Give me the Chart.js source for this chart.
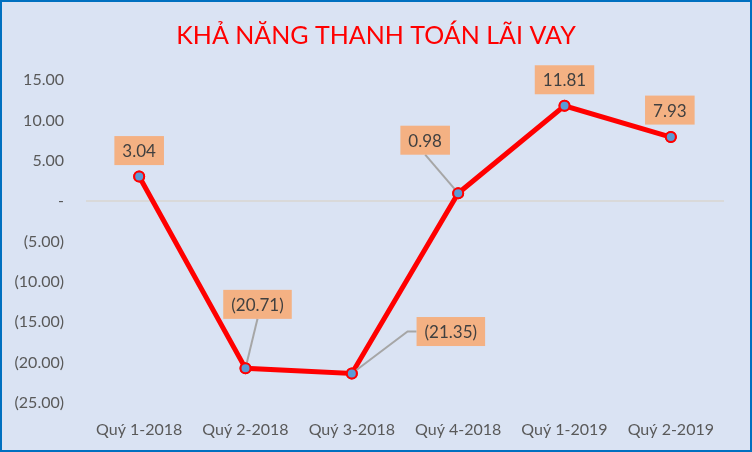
<!DOCTYPE html>
<html>
<head>
<meta charset="utf-8">
<script src="https://cdn.jsdelivr.net/npm/chart.js@4/dist/chart.umd.min.js"></script>
<style>
  html, body { margin: 0; padding: 0; }
  #wrap {
    width: 752px; height: 452px; box-sizing: border-box;
    border: 2px solid #0070C0; background: #DAE3F3;
  }
  canvas { display: block; }
</style>
</head>
<body>
<div id="wrap"><canvas id="chart" width="748" height="448"></canvas></div>
<script>
const quarters = ['Quý 1-2018', 'Quý 2-2018', 'Quý 3-2018', 'Quý 4-2018', 'Quý 1-2019', 'Quý 2-2019'];
const coverage = [3.04, -20.71, -21.35, 0.98, 11.81, 7.93];
const yMin = -25;
const yMax = 15;
const yStep = 5;
const chartTitle = 'KHẢ NĂNG THANH TOÁN LÃI VAY';

const fontName = 'Lato, "Open Sans", sans-serif';

// accounting style number: 0 -> "-", negatives in brackets
function fmt(v) {
    if (Math.abs(v) < 1e-9) return '-';
    const s = Math.abs(v).toFixed(2);
    return v < 0 ? '(' + s + ')' : s;
}

// where each label box sits relative to its point, and how the leader line goes
const labelPlace = [
    { dx: 0, dy: -26 },
    { dx: 12, dy: -64, leader: 'bottom' },
    { dx: 99, dy: -42, leader: 'left' },
    { dx: -33, dy: -53, leader: 'bottom' },
    { dx: 0, dy: -26 },
    { dx: -1, dy: -27 }
];

// title centred on the whole canvas (the built-in one follows the layout padding)
const centredTitle = {
    id: 'centredTitle',
    afterDraw(chart) {
        const ctx = chart.ctx;
        ctx.save();
        ctx.font = '25px ' + fontName;
        ctx.fillStyle = '#FF0000';
        ctx.textAlign = 'center';
        ctx.textBaseline = 'middle';
        ctx.fillText(chartTitle, chart.width / 2, 34);
        ctx.restore();
    }
};

const boxLabels = {
    id: 'boxLabels',
    afterDatasetsDraw(chart) {
        const ctx = chart.ctx;
        const meta = chart.getDatasetMeta(0);
        ctx.save();
        ctx.font = '17px ' + fontName;
        meta.data.forEach((pt, i) => {
            const place = labelPlace[i];
            const text = fmt(coverage[i]);
            const w = ctx.measureText(text).width + 16;
            const h = 29;
            const cx = pt.x + place.dx;
            const cy = pt.y + place.dy;
            const left = cx - w / 2, top = cy - h / 2;

            if (place.leader) {
                ctx.strokeStyle = '#A6A6A6';
                ctx.lineWidth = 2;
                ctx.beginPath();
                ctx.moveTo(pt.x, pt.y);
                if (place.leader === 'bottom') {
                    ctx.lineTo(cx, top + h);
                } else {
                    ctx.lineTo(left - 9, cy);
                    ctx.lineTo(left, cy);
                }
                ctx.stroke();
            }

            ctx.fillStyle = '#F4B183';
            ctx.fillRect(left, top, w, h);
            ctx.fillStyle = '#404040';
            ctx.textAlign = 'center';
            ctx.textBaseline = 'middle';
            ctx.fillText(text, cx, cy + 1);
        });
        ctx.restore();
    }
};

// redraw points above the leader lines
const pointsOnTop = {
    id: 'pointsOnTop',
    afterDraw(chart) {
        const meta = chart.getDatasetMeta(0);
        meta.data.forEach(p => p.draw(chart.ctx, chart.chartArea));
    }
};

new Chart(document.getElementById('chart'), {
    type: 'line',
    data: {
        labels: quarters,
        datasets: [{
            data: coverage,
            borderColor: '#FF0000',
            borderWidth: 5,
            tension: 0,
            pointRadius: 5,
            pointHoverRadius: 5,
            pointBackgroundColor: '#5B9BD5',
            pointBorderColor: '#FF0000',
            pointBorderWidth: 2
        }]
    },
    options: {
        responsive: false,
        animation: false,
        events: [],
        layout: { padding: { top: 78, right: 26, bottom: 0, left: 0 } },
        plugins: {
            legend: { display: false },
            tooltip: { enabled: false },
            title: { display: false }
        },
        scales: {
            x: {
                offset: true,
                grid: { display: false, drawTicks: false },
                border: { display: false },
                ticks: {
                    color: '#595959',
                    font: { family: fontName, size: 16 },
                    padding: 17,
                    maxRotation: 0
                },
                afterFit(scale) { scale.height = 47; }
            },
            y: {
                min: yMin,
                max: yMax,
                grid: {
                    drawTicks: false,
                    color: c => (c.tick && c.tick.value === 0) ? '#D9D9D9' : 'rgba(0,0,0,0)',
                    lineWidth: 2
                },
                border: { display: false },
                ticks: {
                    stepSize: yStep,
                    color: '#595959',
                    font: { family: fontName, size: 16 },
                    padding: 22,
                    callback: v => fmt(v)
                },
                afterFit(scale) { scale.width = 84; }
            }
        }
    },
    plugins: [boxLabels, pointsOnTop, centredTitle]
});
</script>
</body>
</html>
